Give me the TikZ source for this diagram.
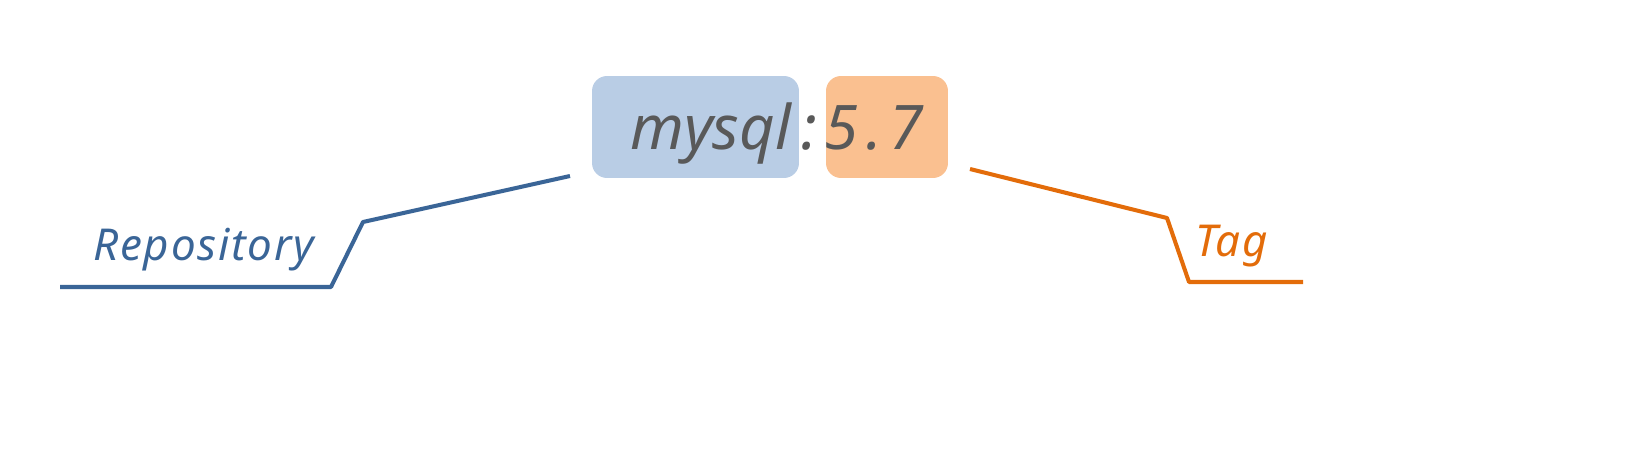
\documentclass[tikz,border=0pt]{standalone}
\usepackage{fontspec}
\setmainfont{Noto Sans}
\definecolor{repoline}{HTML}{3A6597}
\definecolor{repofill}{HTML}{B9CDE5}
\definecolor{tagline}{HTML}{E36C0A}
\definecolor{tagfill}{HTML}{FAC090}
\definecolor{imgtext}{HTML}{595959}
\tikzset{
  namebox/.style={rounded corners=0.3cm, inner sep=0pt, minimum height=2.04cm},
  callout/.style={line width=2.3pt, line join=round},
  calloutlabel/.style={anchor=base west, inner sep=0pt, font=\itshape\fontsize{25}{30}\selectfont\addfontfeature{LetterSpace=4}},
}
\begin{document}
\begin{tikzpicture}[x=0.02cm, y=-0.02cm]
\useasboundingbox (0,0) rectangle (1634,456);
\node[namebox, fill=repofill, minimum width=4.14cm] (repobox) at (695.5,127){};
\node[namebox, fill=tagfill, minimum width=2.44cm] (tagbox) at (887,127){};
\node[anchor=base west, inner sep=0pt, text=imgtext, font=\itshape\fontsize{35}{40}\selectfont] (image) at (630,150){mysql\kern6pt:\kern4pt5\kern5pt.\kern4pt7};
% repository callout
\coordinate (repo0) at (570,176);
\coordinate (repo1) at (363,222);
\coordinate (repo2) at (331,287);
\coordinate (repo3) at (60,287);
\draw[callout, repoline](repo0) -- (repo1) -- (repo2) -- (repo3);
\node[calloutlabel, text=repoline] (repo) at (93,260){Repository};
% tag callout
\coordinate (tag0) at (970,169);
\coordinate (tag1) at (1167,218);
\coordinate (tag2) at (1189,282);
\coordinate (tag3) at (1303,282);
\draw[callout, tagline](tag0) -- (tag1) -- (tag2) -- (tag3);
\node[calloutlabel, text=tagline] (tag) at (1195,256){Tag};
\end{tikzpicture}
\end{document}
